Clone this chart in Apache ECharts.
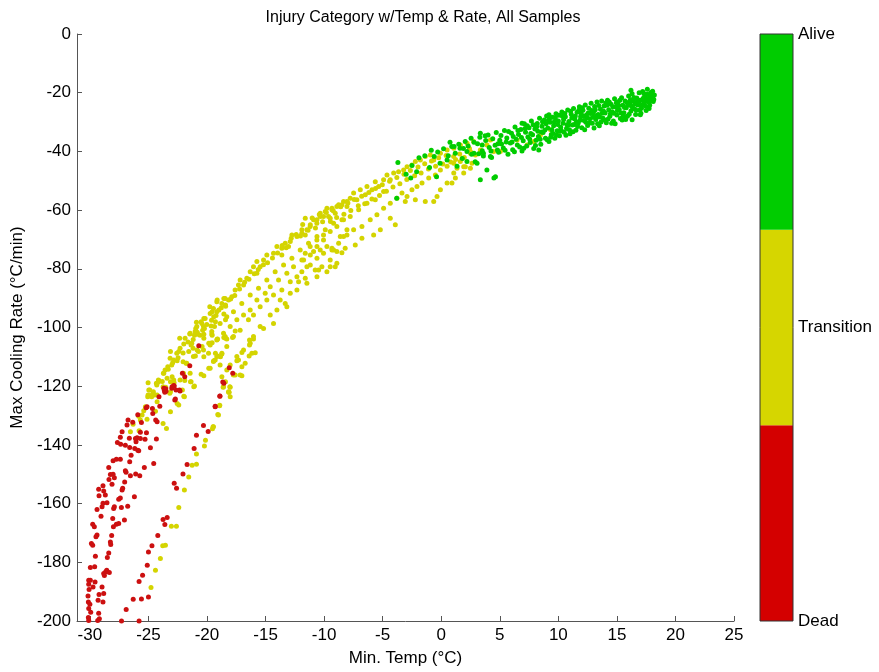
<!DOCTYPE html>
<html><head><meta charset="utf-8">
<script src="https://cdn.jsdelivr.net/npm/echarts@6/dist/echarts.min.js"></script>
<style>html,body{margin:0;padding:0;background:#fff}#c{width:879px;height:672px}</style>
</head><body><div id="c"></div>
<script>
const xTicks = [-30,-25,-20,-15,-10,-5,0,5,10,15,20,25];
const categories = ['Dead','Transition','Alive'];
const categoryColors = ['#d40000','#d6d600','#00cc00'];
const pointColors = ['#cc1010','#d4d400','#00cc00'];
const colorbarValues = [1,1,1];
const colorbarLabelAt = [0,1.5,3];

const deadPts = [
[-18.65,-118.6],[-18.9,-123.4],[-19.3,-126.8],[-19.9,-135.4],[-20.3,-133.4],[-20.9,-136.7],[-21.1,-141.2],[-21.7,-146.7],[-22.05,-149.9],[-22.8,-153.1],[-22.6,-154.8],[-23.4,-164.7],[-23.75,-165.4],[-23.6,-167.1],[-24.2,-170.9],[-24.7,-174.4],[-25.0,-176.5],[-25.1,-181],[-25.5,-184.4],[-25.8,-186.5],[-25.0,-191.8],[-25.6,-192.5],[-26.3,-192.6],[-26.9,-196.1],[-25.8,-200],[-27.3,-200],
[-20.7,-106.2],[-21.47,-113.0],[-21.9,-116.8],[-22.1,-115.6],[-18.1,-113.7],[-18.56,-119.0],[-17.8,-115.6],[-18.9,-123.3],[-19.3,-127.0],
[-22.8,-119.9],[-23.0,-120.7],[-23.5,-121.7],[-24.1,-123.6],[-22.35,-121.3],[-22.3,-121.6],[-23.6,-122.1],[-22.7,-124.4],
[-30.1,-186.1],[-29.96,-186.1],[-30.1,-187.5],[-29.73,-188.4],[-30.07,-189.3],[-30.16,-191.5],[-30.13,-193.5],[-30.0,-194.3],[-30.1,-195.7],[-29.93,-197.0],[-30.13,-198.8],[-30.1,-199.8],[-29.25,-197.4],[-29.19,-199.2],[-29.33,-199.8],[-29.22,-191.0],[-29.3,-192.9],[-28.82,-190.6],[-28.88,-193.5],[-28.96,-188.4],[-29.56,-186.7],[-29.59,-181.5],[-29.96,-181.8],[-29.53,-177.9],[-29.87,-173.6],[-29.76,-174.2],[-29.39,-170.7],[-29.48,-171.3],[-29.76,-167.0],[-29.62,-167.9],[-29.05,-164.3],[-29.39,-162.0],[-28.96,-161.1],[-28.88,-159.9],[-29.22,-157.3],[-29.25,-155.1],[-28.82,-155.7],[-28.68,-157.1],[-28.88,-153.9],[-28.37,-151.8],[-28.25,-150.1],[-28.02,-150.0],[-27.91,-151.2],[-28.11,-153.4],[-28.39,-147.7],[-28.02,-145.4],[-27.74,-144.9],[-27.4,-144.9],[-28.54,-159.7],[-27.91,-161.1],[-28.05,-165.1],[-27.74,-167.0],[-27.54,-166.8],[-27.99,-167.9],[-28.14,-170.9],[-28.25,-173.1],[-28.22,-173.9],[-28.39,-176.8],[-28.51,-178.4],[-28.56,-182.7],[-28.76,-184.5],[-28.65,-183.2],[-28.34,-183.5],[-28.82,-183.8],[-27.97,-161.7],[-27.31,-161.3],[-27.4,-158.1],[-27.54,-158.5],[-27.25,-155.4],[-27.2,-154.8],[-27.03,-152.6],[-26.91,-149.3],[-26.97,-148.8],[-26.77,-160.9],[-27.05,-165.6],[-26.2,-157.7],[-26.6,-145.7],[-26.48,-143.5],[-26.6,-140.9],[-26.97,-140.1],[-27.37,-139.8],[-27.65,-139.2],[-27.4,-137.4],[-27.25,-135.5],[-26.83,-133.2],[-26.63,-137.7],[-26.11,-137.8],[-25.97,-137.6],[-25.69,-137.8],[-26.06,-138.9],[-25.91,-141.8],[-25.83,-142.0],[-26.17,-141.2],[-25.29,-138.1],[-24.83,-141.0],[-25.74,-150.5],[-25.35,-147.7],[-24.55,-146.3],[-24.32,-138.0],[-26.54,-150.5],[-26.09,-149.9],[-26.74,-131.5],[-26.34,-132.3],[-25.91,-129.7],[-25.6,-132.4],[-25.69,-135.7],[-25.17,-135.9],[-25.2,-127.3],[-25.12,-127.0],[-24.66,-127.6],[-24.03,-126.8],[-24.26,-132.1],[-24.38,-131.5],[-24.63,-129.3],[-23.64,-121.5],[-23.69,-120.7],[-23.52,-120.9],[-22.98,-120.2],[-22.84,-119.8],[-22.64,-121.3],[-22.75,-124.7]
];

const transitionPts = [
[-25.03,-118.8],[-24.89,-121.3],[-24.6,-122.4],[-24.49,-123.0],[-24.26,-119.0],[-24.15,-118.5],[-23.75,-120.2],[-23.52,-120.4],[-23.12,-118.5],[-23.18,-122.4],[-22.81,-118.8],[-22.1,-121.3],[-21.98,-123.4],[-22.41,-126.4],[-22.55,-125.9],[-23.12,-128.7],[-21.36,-118.5],[-21.07,-119.9],[-18.14,-122.1],[-18.05,-120.2],[-18.91,-126.5],[-19.08,-129.6],[-19.48,-133.8],[-20.13,-138.4],[-20.22,-140.4],[-20.9,-143.1],[-21.27,-146.9],[-20.9,-146.6],[-21.56,-150.9],[-21.93,-155.4],[-22.41,-161.3],[-23.04,-167.7],[-22.61,-167.7],[-23.55,-174.2],[-23.78,-174.4],[-23.98,-178.7],[-24.4,-182.7],[-24.78,-188.6],[-25.03,-123.0],[-25.26,-127.0],[-25.4,-128.4],[-25.12,-131.3],[-25.54,-129.8],[-25.83,-130.2],[-26.31,-133.0],[-26.54,-135.5],[-25.8,-135.2],[-25.69,-131.5],[-23.75,-132.7],[-23.46,-134.4],[-24.4,-128.5],[-24.26,-125.3],
[-19.13,-90.6],[-18.56,-90.1],[-18.42,-92.3],[-19.76,-92.9],[-19.56,-94.6],[-19.42,-96.3],[-19.28,-98.0],[-18.99,-94.0],[-18.56,-95.4],[-18.42,-97.4],[-20.27,-96.9],[-20.5,-98.0],[-20.9,-98.2],[-20.22,-100.3],[-19.65,-99.5],[-19.36,-99.7],[-20.96,-100.3],[-21.47,-102.2],[-21.07,-102.6],[-20.79,-102.3],[-20.27,-102.3],[-20.27,-103.7],[-19.56,-102.6],[-19.13,-104.0],[-18.56,-103.4],[-22.33,-103.7],[-21.98,-105.6],[-21.36,-106.0],[-21.19,-107.1],[-21.56,-108.2],[-20.84,-107.7],[-20.42,-106.5],[-19.85,-105.4],[-19.56,-105.2],[-20.27,-110.0],[-20.99,-109.7],[-22.41,-108.2],[-23.12,-108.2],[-22.84,-111.1],[-22.55,-111.3],[-22.04,-111.7],[-21.78,-112.2],[-19.42,-111.3],[-19.85,-113.9],[-20.5,-115.9],[-20.27,-116.4],[-23.35,-113.4],[-23.69,-115.6],[-23.41,-117.3],[-24.12,-118.1],[-24.32,-119.0],[-22.98,-116.8],[-22.84,-117.9],[-21.41,-118.5],[-21.13,-120.2],[-21.9,-118.1],[-24.97,-121.3],[-24.69,-123.0],[-25.06,-123.6],[-24.26,-123.0],[-23.55,-121.1],[-23.12,-121.9],[-21.93,-123.6],[-18.62,-120.4],[-18.42,-118.5],[-18.85,-110.0],[-19.28,-108.8],[-18.42,-103.7],
[-19.59,-102.2],[-19.1,-103.9],[-18.45,-103.1],[-18.31,-103.9],[-17.82,-103.4],[-17.59,-101.2],[-19.73,-105.4],[-16.37,-104.3],[-16.03,-103.9],[-16.37,-106.0],[-17.02,-108.5],[-16.17,-108.8],[-15.88,-108.6],[-16.4,-109.7],[-17.31,-111.1],[-17.45,-111.3],[-16.74,-112.2],[-17.02,-113.4],[-18.73,-109.0],[-19.1,-109.7],[-19.45,-111.6],[-19.73,-113.9],[-17.74,-116.0],[-17.59,-116.2],[-17.02,-116.4],[-18.59,-120.2],[-18.02,-120.4],[-18.11,-122.1],[-18.93,-126.7],[-19.02,-129.8],[-19.45,-133.8],[-19.53,-134.5],
[-8.05,-57.1],[-8.48,-58.2],[-8.91,-58.8],[-9.33,-59.9],[-9.76,-59.4],[-10.33,-61.1],[-10.05,-62.2],[-9.48,-62.8],[-10.61,-63.3],[-11.18,-65.0],[-11.61,-62.8],[-11.47,-66.7],[-11.9,-67.9],[-12.32,-69.0],[-12.75,-68.5],[-12.89,-70.7],[-13.32,-71.3],[-13.04,-72.4],[-13.61,-73.0],[-14.03,-72.4],[-14.32,-74.7],[-13.61,-75.3],[-14.89,-75.3],[-15.17,-77.0],[-15.74,-77.5],[-15.46,-79.3],[-16.03,-79.3],[-16.31,-81.0],[-15.74,-81.5],[-16.6,-83.2],[-17.17,-83.8],[-17.31,-85.5],[-16.88,-85.5],[-17.6,-87.2],[-17.88,-89.5],[-18.16,-90.6],[-18.45,-90.1],[-18.73,-91.8],[-19.16,-91.2],[-19.45,-93.5],[-19.16,-94.6],[-19.73,-95.2],[-20.16,-96.9],[-20.44,-98.6],[-20.87,-99.7],[-21.01,-101.4],[-21.44,-102.0],[-20.59,-102.6],[-21.87,-103.7],[-21.3,-105.4],[-22.3,-107.1],[-22.58,-108.8],[-23.15,-110.5],[-23.01,-112.8],[-23.58,-114.5],[-23.72,-115.6],[-24.15,-117.9],[-24.29,-119.6],[-24.58,-121.9],[-24.72,-123.6],
[-8.91,-78.1],[-8.48,-74.5],[-9.33,-73.6],[-9.48,-79.3],[-9.76,-81.0],[-10.61,-82.7],[-10.47,-80.4],[-11.47,-84.9],[-11.61,-83.2],[-12.18,-84.4],[-12.32,-87.2],[-12.89,-88.3],[-13.32,-91.8],[-13.18,-92.9],[-13.75,-90.6],[-14.03,-94.0],[-14.6,-95.7],[-14.32,-98.6],[-15.17,-100.3],[-15.46,-99.7],[-16.03,-103.1],[-16.31,-105.4],[-16.88,-107.7],[-17.45,-109.9],[-18.02,-112.8],[-18.31,-114.5],[-18.73,-116.8],[-17.74,-116.2],[-17.17,-116.2],[-18.16,-121.9],[-18.02,-123.6],
[-19.16,-109.9],[-18.73,-108.8],[-18.31,-106.5],[-17.74,-103.1],[-17.17,-100.9],[-16.46,-97.4],[-16.03,-95.7],[-15.46,-92.9],[-14.89,-90.6],[-14.32,-88.9],[-13.61,-87.2],[-12.89,-84.4],[-12.32,-82.7],[-11.9,-81.0],[-11.18,-78.7],[-10.61,-76.4],[-10.05,-74.7],[-9.33,-73.0],[-8.76,-71.3],[-8.34,-69.0],[-8.05,-66.7],[-10.05,-70.2],[-10.61,-72.4],[-11.18,-75.3],[-11.75,-77.0],[-12.61,-79.3],[-13.18,-81.5],[-13.89,-83.8],[-14.6,-86.1],[-15.03,-88.3],[-15.74,-90.6],[-16.31,-94.0],[-16.88,-95.7],[-17.45,-97.4],[-18.02,-99.7],[-18.59,-102.0],[-19.16,-104.3],[-19.73,-106.0],[-20.3,-107.7],[-21.16,-109.9],[-21.73,-112.2],[-22.01,-115.6],[-22.3,-117.9],[-21.44,-115.6],[-20.73,-108.2],[-19.87,-108.8],[-19.3,-111.1],[-18.88,-112.8],[-20.3,-99.7],[-19.59,-101.4],[-18.88,-98.6],[-18.31,-96.3],[-17.74,-94.6],[-17.03,-91.8],[-16.31,-88.9],[-15.6,-86.6],[-14.89,-83.8],[-14.18,-81.0],[-13.46,-78.7],[-12.75,-76.4],[-12.04,-73.6],[-11.33,-71.3],[-10.61,-69.0],[-9.9,-66.7],[-9.19,-64.5],[-8.48,-63.3],
[-11.9,-66.7],[-11.61,-68.5],[-11.19,-65.6],[-10.9,-63.3],[-10.62,-64.5],[-10.33,-62.2],[-9.9,-60.5],[-9.62,-62.2],[-9.33,-59.4],[-9.05,-61.1],[-8.76,-58.2],[-8.34,-57.1],[-8.05,-58.8],[-7.77,-56.0],[-7.48,-54.2],[-7.2,-56.5],[-6.91,-53.1],[-6.48,-54.8],[-6.34,-52.0],[-5.91,-53.1],[-5.63,-50.3],[-5.34,-52.0],[-4.92,-49.7],[-4.63,-48.0],[-4.35,-49.7],[-4.06,-47.4],[-3.64,-46.9],[-3.21,-46.3],[-2.92,-45.2],[-2.5,-44.6],[-2.21,-43.4],[-1.78,-42.9],[-1.36,-41.7],[-0.93,-41.2],[-0.64,-42.9],[-0.07,-40.6],[0.5,-39.5],[1.07,-38.9],[1.64,-37.8],[2.21,-37.2],[2.77,-36.6],[-4.92,-53.7],[-5.63,-56.5],[-6.34,-57.7],[-7.05,-59.9],[-7.77,-62.2],[-8.34,-63.3],[-8.91,-65.6],[-9.48,-67.3],[-10.05,-68.5],[-10.62,-70.2],[-11.19,-72.4],[-11.61,-74.7],[-11.9,-77.0],[-11.47,-79.3],[-10.9,-74.1],[-10.33,-73.6],[-9.76,-72.4],[-9.19,-73.6],[-8.62,-69.0],[-8.05,-68.5],[-7.48,-66.7],[-6.77,-65.6],[-6.06,-63.3],[-5.49,-61.6],[-4.92,-59.4],[-4.35,-57.7],[-3.78,-56.0],[-3.35,-54.2],[-2.92,-55.4],[-2.5,-53.1],[-2.07,-52.0],[-1.64,-50.8],[-1.07,-49.1],[-0.5,-48.0],[-0.07,-46.3],[0.5,-45.1],[1.07,-44.0],[1.78,-42.3],[2.49,-40.6],[-4.35,-62.8],[-3.92,-65.0],[-5.2,-66.7],[-5.77,-68.5],[-6.77,-69.6],[-7.34,-71.9],[-8.2,-73.0],[-8.91,-74.1],[-9.48,-77.0],[-10.19,-79.3],[-10.76,-80.4],[-9.05,-79.3],[-3.07,-57.1],[-2.21,-56.5],[-1.36,-57.1],[-0.64,-57.1],[-0.36,-55.4],[0.5,-50.8],[-0.07,-53.1],[1.07,-47.4],[1.92,-45.2],[2.63,-44.0],
[1.06,-41.7],[1.35,-45.7],[1.63,-43.4],[2.06,-45.2],[2.49,-40.0],[2.92,-41.2],[3.34,-39.5],[3.91,-37.8],[4.48,-40.0],[5.05,-40.0],[4.2,-36.1],[6.48,-36.1],[7.33,-37.8],[7.9,-36.6],[8.47,-34.4],[9.33,-32.6],[9.9,-34.4],[1.21,-49.1],[0.92,-50.8],[1.92,-47.4],[2.49,-45.7],
[-11.83,-64.9],[-11.37,-66.9],[-11.02,-62.7],[-10.74,-66.1],[-10.41,-61.5],[-10.13,-64.0],[-9.81,-60.8],[-9.46,-63.9],[-9.22,-60.2],[-8.93,-62.5],[-8.58,-58.9],[-8.31,-61.4],[-7.97,-57.6],[-7.72,-60.1],[-7.43,-56.4],[-7.08,-58.5],[-6.79,-55.3],[-6.53,-57.8],[-6.18,-54.0],[-5.92,-56.2],[-5.61,-52.6],[-5.27,-55.0],[-5.03,-51.4],[-4.68,-53.6],[-4.41,-50.2],[-4.12,-52.1],[-3.79,-48.9],[-3.53,-51.0],[-3.18,-47.8],[-2.94,-49.6],[-2.63,-46.5],[-2.27,-48.3],[-1.98,-45.3],[-1.72,-47.4],[-1.41,-44.2],[-1.09,-46.0],[-0.83,-43.3],[-0.48,-45.1],[-0.22,-42.2],[0.13,-44.3],[0.42,-41.4],[0.81,-43.6],[1.23,-42.8],[1.58,-40.9],[1.97,-42.1],[2.41,-39.0],
[-23.82,-118.4],[-23.31,-114.2],[-22.93,-112.0],[-22.47,-110.3],[-22.04,-108.7],[-21.62,-104.9],[-21.18,-104.1],[-20.83,-101.6],[-20.37,-100.9],[-20.02,-99.0],[-19.61,-97.5],[-19.23,-95.9],[-18.78,-93.3],[-18.41,-92.8],[-17.98,-90.3],[-17.63,-89.1],[-17.22,-86.9],[-16.79,-84.6],[-16.42,-83.6],[-15.97,-81.7],[-15.62,-80.2],[-15.18,-78.6],[-14.83,-77.9],[-14.41,-76.3],[-13.97,-74.6],[-13.58,-72.1],[-13.24,-72.8],[-12.81,-69.6],[-12.38,-68.3],[-12.02,-68.8]
];

const alivePts = [
[-0.3,-40.2],[0.2,-39.1],[0.6,-41.5],[0.9,-38.3],[1.2,-40.6],[1.5,-37.6],[1.8,-42.4],[1.9,-39.0],[2.3,-38.2],[2.6,-41.0],[2.8,-36.9],[2.9,-43.5],
[3.1,-37.4],[3.3,-35.2],[3.5,-39.8],[3.6,-41.6],[3.8,-36.3],[4.0,-34.4],[4.1,-38.7],[4.3,-42.1],[4.4,-35.7],[4.6,-37.9],[4.7,-33.6],[4.9,-40.3],[5.0,-36.2],[5.1,-34.6],
[5.3,-38.8],[5.4,-32.9],[5.6,-35.4],[5.7,-41.0],[5.9,-37.1],[6.0,-33.8],[6.1,-39.4],[6.3,-31.7],[6.4,-35.9],[6.5,-37.8],[6.6,-34.2],[6.8,-32.5],[6.9,-39.9],[7.0,-36.4],[7.1,-30.6],
[7.2,-33.5],[7.3,-38.2],[7.4,-35.1],[7.5,-31.9],[7.6,-37.0],[7.7,-29.6],[7.8,-34.3],[7.9,-39.0],[8.0,-32.4],[8.1,-36.2],[8.2,-30.5],[8.3,-34.9],[8.4,-28.7],[8.5,-37.6],[8.6,-31.4],[8.7,-33.6],[8.8,-29.3],[8.9,-35.5],[9.0,-27.9],
[9.1,-32.0],[9.2,-36.6],[9.3,-30.1],[9.4,-34.2],[9.5,-28.4],[9.6,-31.3],[9.7,-35.5],[9.8,-27.2],[9.9,-33.0],[10.0,-29.6],[10.1,-34.7],[10.2,-31.8],[10.3,-26.6],[10.4,-30.4],[10.5,-33.5],[10.6,-28.2],[10.7,-32.2],[10.8,-25.9],[10.9,-29.8],[11.0,-34.0],
[11.1,-27.3],[11.2,-31.0],[11.3,-25.4],[11.4,-29.0],[11.5,-32.8],[11.6,-26.7],[11.7,-30.3],[11.8,-24.8],[11.9,-28.2],[12.0,-31.9],[12.1,-26.0],[12.2,-29.5],[12.3,-24.2],[12.4,-27.6],[12.5,-31.2],[12.6,-25.3],[12.7,-28.9],[12.8,-23.6],[12.9,-30.4],[13.0,-26.8],
[13.1,-24.7],[13.2,-29.1],[13.3,-23.2],[13.4,-27.4],[13.5,-31.3],[13.6,-25.6],[13.7,-22.8],[13.8,-28.6],[13.9,-24.5],[14.0,-26.9],[14.1,-30.2],[14.2,-22.6],[14.3,-25.8],[14.4,-28.0],[14.5,-23.9],[14.6,-26.5],[14.7,-29.6],[14.8,-22.1],[14.9,-24.9],[15.0,-27.6],
[15.1,-23.2],[15.2,-25.7],[15.3,-28.8],[15.4,-21.7],[15.5,-24.3],[15.6,-26.8],[15.7,-22.8],[15.8,-25.1],[15.9,-28.0],[16.0,-21.1],[16.1,-23.7],[16.2,-26.2],[16.3,-20.4],[16.4,-22.9],[16.5,-25.5],[16.6,-27.4],[16.7,-21.8],[16.8,-24.2],[16.9,-20.0],[17.0,-22.6],
[17.1,-25.3],[17.2,-19.6],[17.3,-23.4],[17.4,-21.2],[17.5,-26.1],[17.6,-20.5],[17.7,-22.4],[17.8,-24.3],[17.9,-19.9],[18.0,-21.6],[18.1,-23.0],[18.2,-20.8],[17.6,-18.8],[17.9,-22.8],[17.3,-20.3],
[5.15,-37.5],[5.45,-39.6],[5.75,-33.2],[6.05,-36.8],[6.25,-40.1],[6.55,-32.9],[6.85,-35.3],[7.05,-38.9],[7.35,-31.3],[7.55,-35.8],[7.85,-30.9],[8.05,-38.0],[8.25,-33.1],[8.45,-35.9],[8.65,-29.9],[8.85,-32.7],[9.05,-36.0],[9.25,-28.8],[9.45,-32.6],[9.65,-30.0],[9.85,-34.4],[10.05,-27.7],[10.25,-32.9],[10.45,-29.1],[10.65,-34.5],[10.85,-31.0],[11.05,-26.3],[11.25,-33.3],[11.45,-27.9],[11.65,-31.5],[11.85,-29.4],[12.05,-25.1],[12.25,-32.6],[12.45,-28.5],[12.65,-30.3],[12.85,-26.1],[13.05,-32.0],[13.25,-28.0],[13.45,-24.4],[13.65,-30.0],[13.85,-26.2],[14.05,-23.5],[14.25,-29.0],[14.45,-27.2],[14.65,-24.8],[14.85,-30.6],[15.05,-26.1],[15.25,-22.6],[15.45,-29.3],[15.65,-25.0],[15.85,-23.3],[16.05,-27.3],[16.25,-24.6],[16.45,-21.6],[16.65,-26.0],[16.85,-23.4],[17.05,-27.0],[17.25,-21.9],[17.45,-24.6],[17.65,-23.1],[17.85,-21.2],[18.05,-19.5],[18.15,-22.3],
[9.15,-29.5],[9.55,-33.9],[9.95,-30.8],[10.35,-28.0],[10.75,-30.9],[11.15,-28.6],[11.55,-30.0],[11.95,-27.0],[12.35,-30.1],[12.75,-27.1],[13.15,-25.8],[13.55,-28.3],[13.95,-29.3],[14.35,-23.2],[14.75,-27.0],[15.15,-24.4],[15.55,-27.9],[15.95,-24.2],[16.35,-25.1],[16.75,-22.9],[17.15,-24.2],[17.55,-22.0],
[6.15,-34.9],[6.7,-38.5],[7.15,-32.2],[7.65,-33.9],[8.15,-31.6],[8.55,-33.4],[8.95,-30.6],[9.35,-35.2],[9.75,-28.6],[10.15,-33.1],[10.55,-27.1],[10.95,-32.6],[11.35,-30.8],[11.75,-26.0],[12.15,-28.0],[12.55,-26.9],[12.95,-28.4],[13.35,-30.6],[13.75,-26.9],[14.15,-24.3],[14.55,-30.4],[14.95,-23.4],[15.35,-26.9],[15.75,-29.1],[16.15,-22.4],[16.55,-23.8],[16.95,-25.9],[17.35,-22.9],[17.75,-25.4],[18.1,-21.0],[5.55,-36.8],[4.85,-37.4],[4.25,-39.9],[3.75,-34.7],[3.2,-40.8],[2.55,-35.5],[2.05,-36.6],[0.75,-36.9],[-0.85,-39.6],[-1.9,-42.2],
[-3.7,-43.8],[-3.8,-56.0],[-2.1,-46.9],[-2.6,-49.1],[-1.4,-41.5],[-0.6,-41.7],[-0.1,-44.0],[-0.4,-48.6],[0.5,-42.9],[1.1,-38.3],[1.6,-38.9],[2.2,-40.0],[1.35,-45.1],[2.2,-43.4],[2.8,-40.6],[3.06,-44.0],[3.9,-46.3],[3.34,-49.7],[4.5,-49.1],[4.63,-48.6],[3.6,-40.6],[4.2,-41.7],[4.8,-39.5],[3.34,-33.8],[3.5,-37.8],[8.33,-39.5],[6.9,-30.4],[9.2,-27.5],[16.3,-29.2],[16.2,-19.2],[17.0,-27.5],[-2.5,-44.8],[-1.0,-45.5],[-3.0,-47.8]
];

const font = 'Liberation Sans, Arial, sans-serif';
const chart = echarts.init(document.getElementById('c'), null, {renderer:'canvas'});
const scatter = (name, data, color) => ({
  name, type:'scatter', xAxisIndex:0, yAxisIndex:0, data,
  symbol:'circle', symbolSize:5, itemStyle:{color, opacity:1}, silent:true
});
chart.setOption({
  animation:false,
  backgroundColor:'#fff',
  title:{text:'Injury Category w/Temp & Rate, All Samples', left:418, textAlign:'center', top:5,
    textStyle:{fontFamily:font, fontSize:16, fontWeight:'normal', color:'#000'}},
  grid:[
    {left:77, top:34, width:657, height:587, show:false},
    {left:760, top:34, width:33, height:587, show:true, borderColor:'#333', borderWidth:1, backgroundColor:'transparent', z:5}
  ],
  xAxis:[
    {type:'value', gridIndex:0, min:-31.1, max:25, name:'Min. Temp (°C)', nameLocation:'middle', nameGap:29,
     nameTextStyle:{fontFamily:font, fontSize:17, color:'#000'},
     axisLine:{show:true, onZero:false, lineStyle:{color:'#555', width:1}},
     axisTick:{show:true, inside:true, length:5, customValues:xTicks, lineStyle:{color:'#555'}},
     axisLabel:{customValues:xTicks, fontFamily:font, fontSize:17, color:'#000', margin:6},
     splitLine:{show:false}},
    {type:'category', gridIndex:1, data:['bar'], show:false}
  ],
  yAxis:[
    {type:'value', gridIndex:0, min:-200, max:0, interval:20, name:'Max Cooling Rate (°C/min)', nameLocation:'middle', nameGap:49,
     nameTextStyle:{fontFamily:font, fontSize:17, color:'#000'},
     axisLine:{show:true, onZero:false, lineStyle:{color:'#555', width:1}},
     axisTick:{show:true, inside:true, length:5, lineStyle:{color:'#555'}},
     axisLabel:{fontFamily:font, fontSize:17, color:'#000', margin:6},
     splitLine:{show:false}},
    {type:'value', gridIndex:1, min:0, max:3, position:'right',
     axisLine:{show:false},
     axisTick:{show:true, inside:true, length:4, customValues:[1.5], lineStyle:{color:'#666'}},
     axisLabel:{customValues:colorbarLabelAt, fontFamily:font, fontSize:17, color:'#000', margin:5,
       formatter:(v)=>categories[colorbarLabelAt.indexOf(v)]},
     splitLine:{show:false}}
  ],
  series:[
    scatter('Transition', transitionPts, pointColors[1]),
    scatter('Alive', alivePts, pointColors[2]),
    scatter('Dead', deadPts, pointColors[0]),
    ...categories.map((c,i)=>({name:c+' bar', type:'bar', xAxisIndex:1, yAxisIndex:1, stack:'cb', barWidth:'100%',
       data:[colorbarValues[i]], itemStyle:{color:categoryColors[i]}, silent:true}))
  ]
});
</script></body></html>
